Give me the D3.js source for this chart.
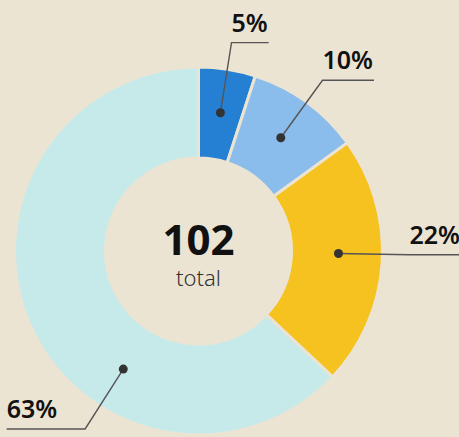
<!DOCTYPE html>
<html>
<head>
<meta charset="utf-8">
<script src="https://cdn.jsdelivr.net/npm/d3@7"></script>
<style>
  html, body { margin: 0; padding: 0; background: #ece4d3; }
  svg { display: block; font-family: "Noto Sans", "Open Sans", sans-serif; }
</style>
</head>
<body>
<div id="chart"></div>
<script>
// slice shares (percent) in drawing order, clockwise from 12 o'clock
let CATEGORIES = ["A", "B", "C", "D"]
let SHARES = [5, 10, 22, 63]
let LABELS = ["5%", "10%", "22%", "63%"]
let COLORS = ["#2580d3", "#8abcec", "#f6c21f", "#c6eaea"]
let TOTAL = 102
let TOTAL_LABEL = "total"

var width = 459, height = 437
var cx = 198.5, cy = 251
var outerR = 184, innerR = 93

var svg = d3.select("#chart")
  .append("svg")
    .attr("width", width)
    .attr("height", height)

svg.append("rect")
  .attr("width", width)
  .attr("height", height)
  .attr("fill", "#ece4d3")

var g = svg.append("g")
  .attr("transform", "translate(" + cx + "," + cy + ")")

var data = CATEGORIES.map((c, i) => ({cat: c, value: SHARES[i], label: LABELS[i], color: COLORS[i]}))

var pie = d3.pie()
  .value(d => d.value)
  .sort(null)

var arc = d3.arc()
  .innerRadius(innerR)
  .outerRadius(outerR)

var arcs = pie(data)

g.selectAll("path.slice")
  .data(arcs)
  .enter()
  .append("path")
    .attr("class", "slice")
    .attr("d", arc)
    .attr("fill", d => d.data.color)
    .attr("stroke", "#ece4d3")
    .attr("stroke-width", 3)
    .attr("stroke-linejoin", "miter")

// where the leader dot sits (degrees from 12 o'clock); big slice label is pulled to lower left
var labelDeg = function(d, i) {
  if (i == 2) return 91
  if (i == 3) return 212.5
  return (d.startAngle + d.endAngle) / 2 * 180 / Math.PI
}
var dotR = 140, elbowR = 211

var polar = function(deg, r) {
  var a = deg * Math.PI / 180
  return [Math.sin(a) * r, -Math.cos(a) * r]
}

var labels = g.selectAll("g.label")
  .data(arcs)
  .enter()
  .append("g")
    .attr("class", "label")

labels.each(function(d, i) {
  var sel = d3.select(this)
  var deg = labelDeg(d, i)
  var dot = polar(deg, dotR)
  var elbow = polar(deg, elbowR)
  var right = deg < 180

  var txt = sel.append("text")
    .attr("font-size", 25)
    .attr("font-weight", 600)
    .attr("fill", "#111")
    .text(d.data.label)
  var tw = txt.node().getComputedTextLength()
  var lineLen = right ? tw + 1 : tw + 28
  var endX = right ? elbow[0] + lineLen : elbow[0] - lineLen

  txt.attr("x", right ? elbow[0] : endX)
    .attr("y", elbow[1] - 11)

  sel.insert("path", "text")
    .attr("d", d3.line()([dot, elbow, [endX, elbow[1]]]))
    .attr("fill", "none")
    .attr("stroke", "#555")
    .attr("stroke-width", 1.4)

  sel.append("circle")
    .attr("cx", dot[0])
    .attr("cy", dot[1])
    .attr("r", 4.5)
    .attr("fill", "#333")
})

// centre text
g.append("text")
  .attr("text-anchor", "middle")
  .attr("y", 4)
  .attr("font-size", 42)
  .attr("font-weight", 700)
  .attr("fill", "#111")
  .text(TOTAL)

g.append("text")
  .attr("text-anchor", "middle")
  .attr("y", 35)
  .attr("font-size", 22)
  .attr("font-weight", 300)
  .attr("fill", "#333")
  .text(TOTAL_LABEL)
</script>
</body>
</html>
